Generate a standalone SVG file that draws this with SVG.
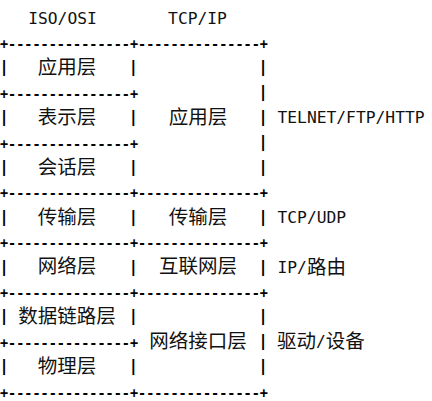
<svg xmlns="http://www.w3.org/2000/svg" width="432" height="401" viewBox="0 0 432 401">
<style>
.b{font-family:"DejaVu Sans Mono","Liberation Mono",monospace;font-size:13.49px;font-weight:bold;fill:#000;white-space:pre}
.v{font-family:"DejaVu Sans Mono","Liberation Mono",monospace;font-size:16px;font-weight:bold;fill:#000;text-anchor:middle}
.m{font-family:"DejaVu Sans Mono","Liberation Mono",monospace;font-size:16.3px;fill:#111;white-space:pre}
.c{font-family:"Noto Sans CJK SC","Noto Sans",sans-serif;font-size:19.5px;fill:#111}
.cm{font-family:"Noto Sans CJK SC","Noto Sans",sans-serif;font-size:19.5px;fill:#111;text-anchor:middle}
</style>
<rect width="432" height="401" fill="#fff"/>
<g id="header">
<text class="m" x="62.5" y="23.5" text-anchor="middle">ISO/OSI</text>
<text class="m" x="197.5" y="23.5" text-anchor="middle">TCP/IP</text>
</g>
<g id="connectors">
<text class="b" x="0" y="48.8">+---------------+---------------+</text>
<text class="b" x="0" y="98.7">+---------------+</text>
<text class="b" x="0" y="148.5">+---------------+</text>
<text class="b" x="0" y="198.4">+---------------+---------------+</text>
<text class="b" x="0" y="248.2">+---------------+---------------+</text>
<text class="b" x="0" y="298.1">+---------------+---------------+</text>
<text class="b" x="0" y="348">+---------------+</text>
<text class="b" x="0" y="397.8">+---------------+---------------+</text>
<text class="v" x="4" y="72">|</text><text class="v" x="133.2" y="72">|</text><text class="v" x="263" y="72">|</text>
<text class="v" x="263" y="97">|</text>
<text class="v" x="4" y="122">|</text><text class="v" x="133.2" y="122">|</text><text class="v" x="263" y="122">|</text>
<text class="v" x="263" y="147">|</text>
<text class="v" x="4" y="171.8">|</text><text class="v" x="133.2" y="171.8">|</text><text class="v" x="263" y="171.8">|</text>
<text class="v" x="4" y="221.6">|</text><text class="v" x="133.2" y="221.6">|</text><text class="v" x="263" y="221.6">|</text>
<text class="v" x="4" y="271.5">|</text><text class="v" x="133.2" y="271.5">|</text><text class="v" x="263" y="271.5">|</text>
<text class="v" x="4" y="321.3">|</text><text class="v" x="133.2" y="321.3">|</text><text class="v" x="263" y="321.3">|</text>
<text class="v" x="263" y="346.3">|</text>
<text class="v" x="4" y="371.2">|</text><text class="v" x="133.2" y="371.2">|</text><text class="v" x="263" y="371.2">|</text>
</g>
<g id="osi">
<text class="cm" x="67" y="73.9">应用层</text>
<text class="cm" x="67" y="123.8">表示层</text>
<text class="cm" x="67" y="173.7">会话层</text>
<text class="cm" x="67" y="223.5">传输层</text>
<text class="cm" x="67" y="273.4">网络层</text>
<text class="cm" x="67" y="323.2">数据链路层</text>
<text class="cm" x="67" y="373.1">物理层</text>
</g>
<g id="tcpip">
<text class="cm" x="198" y="123.8">应用层</text>
<text class="cm" x="198" y="223.5">传输层</text>
<text class="cm" x="198" y="273.4">互联网层</text>
<text class="cm" x="198" y="348.2">网络接口层</text>
</g>
<g id="protocols">
<text class="m" x="277.5" y="123">TELNET/FTP/HTTP</text>
<text class="m" x="277.5" y="222.9">TCP/UDP</text>
<text class="m" x="277.5" y="272.8">IP/<tspan class="c" dy="1">路由</tspan></text>
<text class="c" x="277" y="348.2">驱动<tspan class="m" dy="-1">/</tspan><tspan dy="1">设备</tspan></text>
</g>
</svg>
